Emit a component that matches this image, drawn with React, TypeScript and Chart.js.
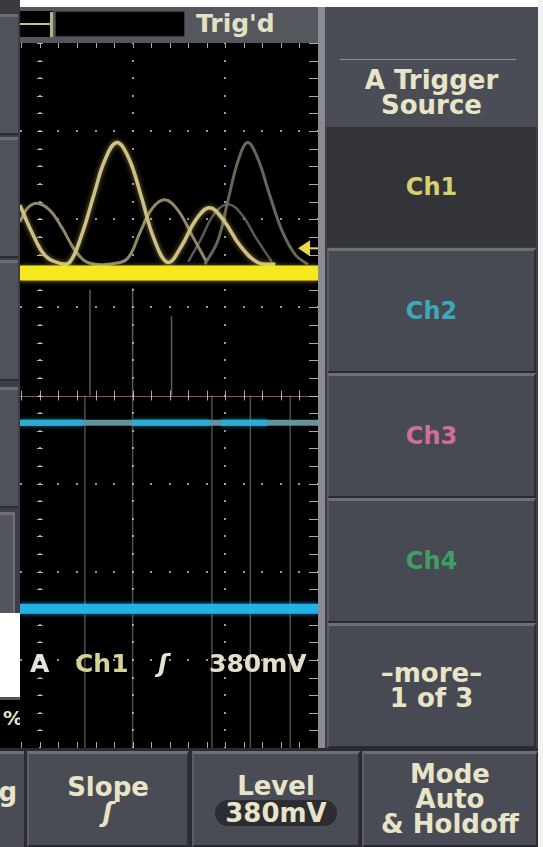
import React, { useEffect, useRef } from "react";
import { Chart, registerables } from "chart.js";

Chart.register(...registerables);

// ---- scale (graticule divisions) ----
const X_MIN = -0.215;
const X_MAX = 3.0;
const Y_MIN = -4;
const Y_MAX = 4;
const majorXs = [0, 1, 2];
const majorYs = [-3, -2, -1, 1, 2, 3];

// ---- channel levels (divisions) ----
const spanX = [-0.215, 3.0];
const ch1Level = 1.39;
const ch2Level = -0.31;
const ch4Level = -2.42;
const triggerLevel = 1.67;

// ---- Ch2 bright segments (start, end) ----
const ch2SegStart = [-0.215, 1.0, 1.95];
const ch2SegEnd = [0.46, 1.83, 2.45];

// ---- persistence edge lines ----
const edgeLowerX = [0.485, 1.0, 1.855, 2.27, 2.7];
const edgeLowerTop = [0, 0, 0, 0, 0];
const edgeUpperX = [0.54, 1.0, 1.42];
const edgeUpperTop = [1.2, 1.22, 0.9];

// ---- analog waveforms (divisions) ----
const wave1X = [-0.216, -0.086, 0.054, 0.216, 0.32, 0.45, 0.58, 0.7, 0.83, 0.96, 1.09, 1.23, 1.38, 1.53, 1.68, 1.83, 1.98, 2.16, 2.35, 2.54];
const wave1Y = [2.16, 1.85, 1.59, 1.5, 1.51, 1.82, 2.27, 2.67, 2.87, 2.69, 2.27, 1.78, 1.51, 1.7, 1.99, 2.13, 1.99, 1.7, 1.51, 1.49];

const wave2X = [-0.216, -0.13, -0.02, 0.11, 0.24, 0.39, 0.54, 0.81, 0.95, 1.08, 1.21, 1.35, 1.49, 1.64, 1.79];
const wave2Y = [1.97, 2.13, 2.18, 2.1, 1.9, 1.63, 1.5, 1.5, 1.56, 1.85, 2.12, 2.22, 2.1, 1.82, 1.53];

const wave3X = [1.78, 1.92, 2.03, 2.14, 2.24, 2.35, 2.48, 2.62, 2.76, 2.89];
const wave3Y = [1.49, 1.76, 2.22, 2.67, 2.87, 2.69, 2.27, 1.85, 1.59, 1.49];

const wave4X = [1.6, 1.73, 1.88, 2.03, 2.18, 2.33, 2.5];
const wave4Y = [1.52, 1.76, 2.06, 2.17, 2.05, 1.79, 1.52];

const zip = (xs: number[], ys: number[]) => xs.map((x, i) => ({ x, y: ys[i] }));
const flat = (xs: number[], v: number) => xs.map((x) => ({ x, y: v }));

function segData(starts: number[], ends: number[], level: number) {
  const out: { x: number; y: number | null }[] = [];
  starts.forEach((s, i) => {
    out.push({ x: s, y: level });
    out.push({ x: ends[i], y: level });
    out.push({ x: ends[i] + 0.001, y: null });
  });
  return out;
}

function vlines(xs: number[], tops: number[], bottom: number) {
  const out: { x: number; y: number | null }[] = [];
  xs.forEach((x, i) => {
    out.push({ x, y: tops[i] });
    out.push({ x, y: bottom });
    out.push({ x, y: null });
  });
  return out;
}

const graticule = {
  id: "graticule",
  beforeDatasetsDraw(chart: any) {
    const { ctx, scales, chartArea: a } = chart;
    const sx = scales.x;
    const sy = scales.y;
    const px = (v: number) => sx.getPixelForValue(v);
    const py = (v: number) => sy.getPixelForValue(v);
    ctx.save();
    const step = 0.2;
    ctx.fillStyle = "rgba(170,170,170,0.9)";
    majorXs.forEach((gx) => {
      for (let k = Y_MIN / step; k <= Y_MAX / step; k++) {
        ctx.fillRect(Math.round(px(gx)) - 1, Math.round(py(k * step)) - 1, 2, 2);
      }
    });
    majorYs.forEach((gy) => {
      for (let k = Math.ceil(X_MIN / step); k <= X_MAX / step; k++) {
        ctx.fillRect(Math.round(px(k * step)) - 1, Math.round(py(gy)) - 1, 2, 2);
      }
    });
    ctx.strokeStyle = "rgba(190,110,110,0.75)";
    ctx.lineWidth = 1;
    ctx.beginPath();
    ctx.moveTo(a.left, Math.round(py(0)) + 0.5);
    ctx.lineTo(a.right, Math.round(py(0)) + 0.5);
    ctx.stroke();
    ctx.strokeStyle = "rgba(200,200,200,0.85)";
    ctx.beginPath();
    for (let k = Math.ceil(X_MIN / step); k <= X_MAX / step; k++) {
      const xx = Math.round(px(k * step)) + 0.5;
      ctx.moveTo(xx, py(0) - 5);
      ctx.lineTo(xx, py(0) + 5);
    }
    for (let k = Y_MIN / step; k <= Y_MAX / step; k++) {
      const yy = Math.round(py(k * step)) + 0.5;
      ctx.moveTo(px(0) - 3, yy);
      ctx.lineTo(px(0) + 3, yy);
    }
    for (let k = Y_MIN / step; k <= Y_MAX / step; k++) {
      const yy = Math.round(py(k * step)) + 0.5;
      ctx.moveTo(a.right - 9, yy);
      ctx.lineTo(a.right, yy);
    }
    for (let k = Math.ceil(X_MIN / step); k <= X_MAX / step; k++) {
      const xx = Math.round(px(k * step)) + 0.5;
      ctx.moveTo(xx, a.top);
      ctx.lineTo(xx, a.top + 5);
      ctx.moveTo(xx, a.bottom);
      ctx.lineTo(xx, a.bottom - 6);
    }
    ctx.stroke();
    ctx.restore();
  },
};

const glow = {
  id: "glow",
  beforeDatasetDraw(chart: any, args: any) {
    const ds = chart.data.datasets[args.index];
    if (ds.glowColor) {
      chart.ctx.save();
      chart.ctx.shadowColor = ds.glowColor;
      chart.ctx.shadowBlur = 5;
    }
  },
  afterDatasetDraw(chart: any, args: any) {
    const ds = chart.data.datasets[args.index];
    if (ds.glowColor) chart.ctx.restore();
  },
};

const overlay = {
  id: "overlay",
  afterDatasetsDraw(chart: any) {
    const { ctx, scales, chartArea: a } = chart;
    const ty = scales.y.getPixelForValue(triggerLevel);
    ctx.save();
    ctx.fillStyle = "#e9d84a";
    ctx.beginPath();
    ctx.moveTo(a.right - 20, ty);
    ctx.lineTo(a.right - 8, ty - 8);
    ctx.lineTo(a.right - 8, ty + 8);
    ctx.closePath();
    ctx.fill();
    ctx.fillRect(a.right - 9, ty - 1, 9, 2);
    ctx.textBaseline = "middle";
    const yy = 622;
    ctx.font = 'bold 25px "DejaVu Sans"';
    ctx.fillStyle = "#e6e4da";
    ctx.fillText("A", 10, yy);
    ctx.fillStyle = "#d6d296";
    ctx.fillText("Ch1", 55, yy);
    ctx.fillStyle = "#e6e4da";
    ctx.font = 'italic bold 25px "DejaVu Sans"';
    ctx.fillText("ʃ", 138, yy);
    ctx.font = 'bold 25px "DejaVu Sans"';
    ctx.fillStyle = "#e2dfcc";
    ctx.fillText("380mV", 189, yy);
    ctx.restore();
  },
};

function Scope() {
  const ref = useRef<HTMLCanvasElement | null>(null);
  useEffect(() => {
    if (!ref.current) return;
    const line = (data: any[], color: string, width: number, order: number, extra: any = {}) => ({
      data,
      borderColor: color,
      borderWidth: width,
      pointRadius: 0,
      fill: false,
      tension: 0,
      spanGaps: false,
      order,
      ...extra,
    });
    const chart = new Chart(ref.current, {
      type: "line",
      data: {
        datasets: [
          line(vlines(edgeLowerX, edgeLowerTop, Y_MIN), "rgba(185,185,185,0.42)", 1.5, 20) as any,
          line(vlines(edgeUpperX, edgeUpperTop, 0), "rgba(200,200,200,0.45)", 1.5, 19) as any,
          line(zip(wave4X, wave4Y), "rgba(110,105,92,0.85)", 2.5, 18, { tension: 0.4 }) as any,
          line(zip(wave3X, wave3Y), "rgba(118,112,98,0.9)", 3, 17, { tension: 0.4 }) as any,
          line(zip(wave2X, wave2Y), "rgba(150,142,112,0.95)", 3, 16, { tension: 0.4 }) as any,
          line(zip(wave1X, wave1Y), "#cfc184", 3.5, 15, { tension: 0.4, glowColor: "rgba(220,200,120,0.6)" }) as any,
          line(flat(spanX, ch2Level), "#64939e", 6, 14) as any,
          line(segData(ch2SegStart, ch2SegEnd, ch2Level), "#2aaed6", 6, 13, { glowColor: "rgba(40,170,220,0.6)" }) as any,
          line(flat(spanX, ch4Level), "#22b3e6", 10, 12, { glowColor: "rgba(40,170,230,0.7)" }) as any,
          line(flat(spanX, ch1Level), "#f6e81c", 15, 11, { glowColor: "rgba(240,225,40,0.7)" }) as any,
        ],
      },
      options: {
        animation: false,
        responsive: false,
        devicePixelRatio: 1,
        layout: { padding: 0 },
        events: [],
        plugins: { legend: { display: false }, tooltip: { enabled: false } },
        scales: {
          x: { type: "linear", min: X_MIN, max: X_MAX, display: false },
          y: { type: "linear", min: Y_MIN, max: Y_MAX, display: false },
        },
      },
      plugins: [graticule, glow, overlay],
    });
    return () => chart.destroy();
  }, []);
  return (
    <canvas
      ref={ref}
      width={298}
      height={705}
      style={{ position: "absolute", left: 20, top: 43, width: 298, height: 705, background: "#000" }}
    />
  );
}

const TXT = "#e8e4c8";
const FONT = '"DejaVu Sans", sans-serif';

function Btn(props: { left: number; top: number; width: number; height: number; bg?: string; children?: any; color?: string; size?: number }) {
  const { left, top, width, height, bg = "#484a53", children, color = TXT, size = 26 } = props;
  return (
    <div
      style={{
        position: "absolute",
        left,
        top,
        width,
        height,
        boxSizing: "border-box",
        background: bg,
        borderTop: "3px solid #6d6f77",
        borderLeft: "2px solid #5d5f67",
        borderBottom: "2px solid #2a2b30",
        borderRight: "2px solid #2e2f34",
        display: "flex",
        flexDirection: "column",
        alignItems: "center",
        justifyContent: "center",
        color,
        fontFamily: FONT,
        fontWeight: "bold",
        fontSize: size,
        lineHeight: "25px",
        textAlign: "center",
        whiteSpace: "nowrap",
        overflow: "hidden",
      }}
    >
      {children}
    </div>
  );
}

export default function App() {
  return (
    <div
      style={{
        position: "fixed",
        left: 0,
        top: 0,
        width: 543,
        height: 847,
        overflow: "hidden",
        background: "#3d3f46",
        fontFamily: FONT,
      }}
    >
      <div style={{ position: "absolute", left: 20, top: 0, width: 523, height: 7, background: "#fff" }} />
      <div style={{ position: "absolute", left: 0, top: 0, width: 19, height: 14, background: "#3a3b40" }} />
      {[14, 137, 260, 387].map((t, i) => (
        <div
          key={i}
          style={{
            position: "absolute",
            left: 0,
            top: t,
            width: 18,
            height: 121,
            boxSizing: "border-box",
            background: "#50525a",
            borderTop: "3px solid #6a6c73",
            borderBottom: "2px solid #2c2d31",
          }}
        />
      ))}
      <div style={{ position: "absolute", left: 0, top: 512, width: 15, height: 101, boxSizing: "border-box", background: "#54565d", borderTop: "3px solid #6e7076", borderRight: "2px solid #6e7076" }} />
      <div style={{ position: "absolute", left: 0, top: 613, width: 20, height: 84, background: "#fff" }} />
      <div style={{ position: "absolute", left: 0, top: 697, width: 20, height: 3, background: "#555" }} />
      <div style={{ position: "absolute", left: 0, top: 700, width: 20, height: 50, background: "#000", overflow: "hidden" }}>
        <div style={{ position: "absolute", left: 3, top: 6, color: TXT, fontSize: 20, fontWeight: "bold", fontFamily: FONT }}>%</div>
      </div>

      <div style={{ position: "absolute", left: 20, top: 7, width: 300, height: 36, background: "#55575e" }} />
      <div style={{ position: "absolute", left: 20, top: 11, width: 33, height: 26, background: "#000" }} />
      <div style={{ position: "absolute", left: 20, top: 23, width: 30, height: 2, background: "#c9c28e" }} />
      <div style={{ position: "absolute", left: 50, top: 12, width: 3, height: 25, background: "#b9b284" }} />
      <div style={{ position: "absolute", left: 55, top: 11, width: 130, height: 26, background: "#000", boxSizing: "border-box", border: "1px solid #3a3a3a" }} />
      <div style={{ position: "absolute", left: 196, top: 9, color: "#e4e0c4", fontSize: 25, fontWeight: "bold", fontFamily: FONT, lineHeight: "30px" }}>Trig'd</div>

      <Scope />
      <div style={{ position: "absolute", left: 318, top: 7, width: 7, height: 745, background: "#8a8c91" }} />

      <div style={{ position: "absolute", left: 325, top: 7, width: 213, height: 120, background: "#4b4d56" }} />
      <div style={{ position: "absolute", left: 340, top: 59, width: 176, height: 1, background: "#8e9096" }} />
      <div
        style={{
          position: "absolute",
          left: 325,
          top: 68,
          width: 213,
          textAlign: "center",
          color: TXT,
          fontSize: 26,
          fontWeight: "bold",
          lineHeight: "25px",
          fontFamily: FONT,
        }}
      >
        A Trigger
        <br />
        Source
      </div>
      <div style={{ position: "absolute", left: 327, top: 127, width: 209, height: 120, background: "#333437", display: "flex", alignItems: "center", justifyContent: "center", color: "#d8d070", fontSize: 24, fontWeight: "bold", fontFamily: FONT }}>
        Ch1
      </div>
      <Btn left={327} top={248} width={209} height={125} color="#38aabb" size={24}>Ch2</Btn>
      <Btn left={327} top={373} width={209} height={125} color="#cf6f98" size={24}>Ch3</Btn>
      <Btn left={327} top={498} width={209} height={125} color="#3f9e62" size={24}>Ch4</Btn>
      <Btn left={327} top={623} width={209} height={125}>
        <div>–more–</div>
        <div>1 of 3</div>
      </Btn>

      <div style={{ position: "absolute", left: 0, top: 748, width: 543, height: 99, background: "#2a2b30" }} />
      <div
        style={{
          position: "absolute",
          left: 0,
          top: 751,
          width: 24,
          height: 96,
          boxSizing: "border-box",
          background: "#4a4c55",
          borderTop: "3px solid #6d6f77",
          overflow: "hidden",
        }}
      >
        <div style={{ position: "absolute", right: 7, top: 23, color: TXT, fontSize: 26, fontWeight: "bold", fontFamily: FONT, whiteSpace: "nowrap" }}>Coupling</div>
      </div>
      <Btn left={27} top={751} width={162} height={96} bg="#4a4c55">
        <div>Slope</div>
        <div style={{ fontStyle: "italic" }}>ʃ</div>
      </Btn>
      <Btn left={192} top={751} width={168} height={96} bg="#4a4c55">
        <div>Level</div>
        <div style={{ background: "#2c2d32", borderRadius: 14, padding: "0 10px", lineHeight: "26px", marginTop: 1 }}>380mV</div>
      </Btn>
      <Btn left={362} top={751} width={176} height={96} bg="#4a4c55">
        <div>Mode</div>
        <div>Auto</div>
        <div>&amp; Holdoff</div>
      </Btn>
      <div style={{ position: "absolute", left: 538, top: 0, width: 5, height: 847, background: "#f2f2f2" }} />
    </div>
  );
}
